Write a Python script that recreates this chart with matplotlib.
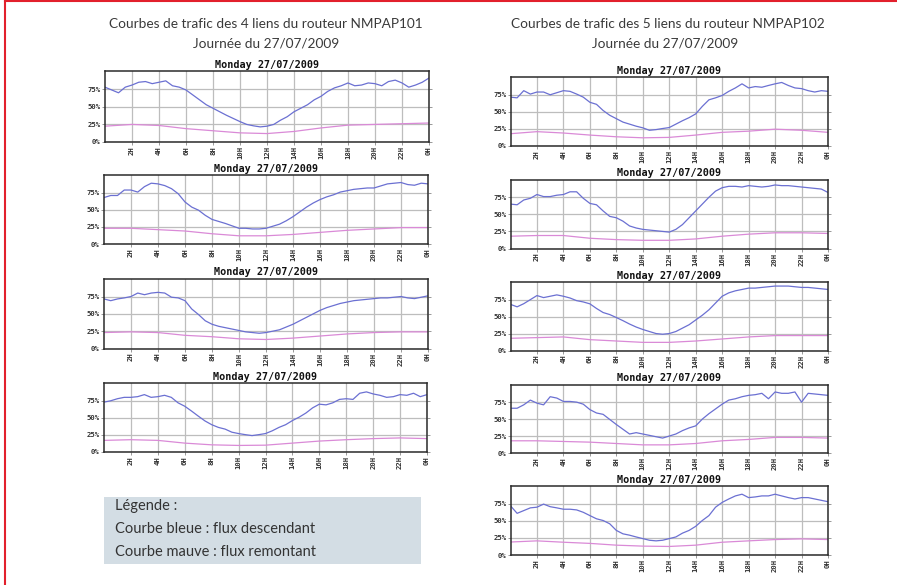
import numpy as np
import matplotlib.pyplot as plt
from matplotlib.patches import Rectangle
from matplotlib.lines import Line2D

W, H = 897, 585

# abscisses : relevés toutes les 30 min (flux descendant), toutes les 2 h (flux remontant)
heures = np.arange(0, 24.5, 0.5)
heures_mauve = np.arange(0, 25, 2)

# ---- routeur NMPAP101 : 4 liens ----
bleu_101_1 = [78, 74, 70, 78, 81, 85, 86, 83, 85, 87, 80, 78, 74, 67, 60, 53, 48, 43, 38, 33.5,
              29, 25, 23, 21.5, 22.5, 25, 31, 36, 43, 48, 53, 60, 65, 72, 77, 80, 84, 80, 81, 84,
              83, 80, 86, 88, 84, 78, 81, 85, 91]
mauve_101_1 = [22.5, 25, 23.5, 19, 16, 13, 12, 15, 20, 24, 25, 26, 27]

bleu_101_2 = [68, 71, 71, 79, 79, 76, 84, 89, 88, 85.5, 81, 73.5, 61.5, 54, 49.5, 42, 36, 33, 30, 26.5,
              23, 23, 22, 22, 23, 26, 29, 34, 40, 47, 54, 60, 65, 69, 72, 76, 78, 80, 81, 82,
              82, 85, 88, 89, 90, 87, 86, 89, 88]
mauve_101_2 = [23, 23, 21, 19, 15, 12, 12, 14, 17, 20, 22, 24, 24]

bleu_101_3 = [71.5, 69, 71.5, 73, 75, 80, 77.6, 80, 81, 80, 74, 73, 69, 57, 49, 40, 35, 32, 30, 28,
              26, 24, 23, 22, 23, 25, 27, 31, 35, 40, 45, 50, 55, 59, 62, 65, 67, 69, 70, 71,
              72, 73, 73, 74, 75, 73, 72, 74, 76]
mauve_101_3 = [23, 24, 23, 19, 17, 14, 13, 15, 18, 21, 23, 24, 24]

bleu_101_4 = [73, 75, 78, 80, 80, 81, 84, 80, 81, 83, 80, 72, 67, 60, 52.6, 45.5, 40, 36, 33.5, 29,
              27, 25.4, 24, 25.4, 27, 31, 36, 40, 46, 51, 57, 64.6, 70, 69, 72, 77, 78, 77, 86, 88,
              85, 83, 80, 81, 84, 83, 86, 81, 84]
mauve_101_4 = [17, 18, 17, 13, 10.5, 9.6, 10, 13, 16, 18, 19.6, 20.6, 19.6]

# ---- routeur NMPAP102 : 5 liens ----
bleu_102_1 = [71.5, 70.5, 81, 76, 79, 79, 75, 78, 81, 80, 76, 71.5, 64, 61, 52, 45, 40, 35, 32, 29,
              26.6, 23, 24, 25.6, 27, 32, 37, 41.5, 47, 58, 67.6, 70.5, 74, 80, 85, 91, 85, 87, 86, 88.6,
              91, 93, 88.6, 85, 84, 81, 79, 81, 80]
mauve_102_1 = [18, 21, 19, 16, 13.5, 12, 12.6, 16, 20, 21.7, 24.6, 23, 20]

bleu_102_2 = [65, 64, 71, 73.5, 79, 76, 76, 78, 79, 83, 83, 73.5, 66, 64, 55, 47, 45, 40, 33, 30,
              28, 27, 26, 25, 24, 28, 35, 45, 55, 65, 75, 84, 89, 91, 91, 90, 92, 91, 90, 91,
              93, 92, 92, 91, 90, 89, 88, 87, 82]
mauve_102_2 = [18, 19, 19, 15, 13, 12, 12, 14, 18, 21, 23, 23, 22]

bleu_102_3 = [68, 64.4, 69, 75, 81, 78, 80, 82, 80, 77.4, 73.5, 71.6, 68.8, 62, 56, 53, 48.6, 44, 39, 34.6,
              31, 28, 25, 24, 25, 28, 33, 38, 45, 52, 60, 70, 80, 85, 88, 90, 92, 92, 93, 94,
              95, 95, 95, 94, 93, 93, 92, 91, 90]
mauve_102_3 = [18, 19, 20, 16, 14, 12, 12, 14, 17, 20, 22, 22, 22]

bleu_102_4 = [66, 66, 71, 78, 73.5, 71, 83, 81, 76, 76, 75, 72, 64, 59, 57, 49.5, 42, 35, 28, 30,
              28, 26, 24, 22, 25, 28, 33, 37, 40, 50, 58, 65, 72, 78, 80, 83, 85, 86, 88, 80,
              90, 88, 88, 90, 75, 88, 87, 86, 85]
mauve_102_4 = [18, 18, 17, 16, 14, 12, 12, 14, 18, 20, 23, 23, 22]

bleu_102_5 = [72, 61, 65, 69, 70, 74.5, 70.7, 69, 67, 67, 66, 62.5, 57.7, 53, 50.5, 45.7, 36, 31, 29, 26.4,
              24, 21.6, 20.7, 21.6, 24, 26.4, 32, 36, 42, 50.5, 57.7, 70, 77, 82, 86.5, 89, 84, 85, 86.5, 86.5,
              89, 86.5, 84, 82, 84, 84, 82, 80, 78]
mauve_102_5 = [19, 20.7, 18.7, 17, 14.4, 13, 12.5, 14.4, 18.7, 20.7, 22.6, 23.6, 22.6]

graphes_101 = [(bleu_101_1, mauve_101_1), (bleu_101_2, mauve_101_2),
               (bleu_101_3, mauve_101_3), (bleu_101_4, mauve_101_4)]
graphes_102 = [(bleu_102_1, mauve_102_1), (bleu_102_2, mauve_102_2), (bleu_102_3, mauve_102_3),
               (bleu_102_4, mauve_102_4), (bleu_102_5, mauve_102_5)]

titre_graphe = "Monday 27/07/2009"
ticks_h = list(range(2, 25, 2))
labels_h = ["%dH" % (h % 24) for h in ticks_h]
ticks_pct = [0, 25, 50, 75]
labels_pct = ["%d%%" % p for p in ticks_pct]

BLEU = "#6b70d2"
MAUVE = "#da8ad7"
GRIS = "#333333"


def boite(x0, y0, x1, y1):
    # coordonnees en pixels -> fraction de figure
    return [x0 / W, 1 - y1 / H, (x1 - x0) / W, (y1 - y0) / H]


def tracer(ax, bleu, mauve):
    ax.plot(heures, bleu, color=BLEU, lw=0.9)
    ax.plot(heures_mauve, mauve, color=MAUVE, lw=0.9)
    ax.set_xlim(0, 24)
    ax.set_ylim(0, 101)
    ax.set_xticks(ticks_h)
    ax.set_xticklabels(labels_h, rotation=90, fontsize=5.2, family="DejaVu Sans Mono",
                       fontweight="bold", color=GRIS)
    ax.set_yticks(ticks_pct)
    ax.set_yticklabels(labels_pct, fontsize=5.2, family="DejaVu Sans Mono",
                       fontweight="bold", color=GRIS)
    ax.tick_params(length=2, width=0.6, pad=1, color="#888888", right=True)
    ax.grid(True, color="#bdbdbd", lw=0.9)
    ax.set_axisbelow(True)
    for s in ax.spines.values():
        s.set_color("#2b2b2b")
        s.set_linewidth(1.1)
    ax.set_title(titre_graphe, fontsize=7.3, family="DejaVu Sans Mono", fontweight="bold",
                 color="#111111", pad=2.5)


fig = plt.figure(figsize=(W / 100, H / 100), dpi=100)

pos_101 = [(105, 71, 429, 142), (104, 175, 428, 244), (104, 278.5, 428, 348.5), (104, 383, 427, 452)]
pos_102 = [(510.5, 77, 828, 146), (510.5, 179.5, 828, 248.5), (510.5, 282, 828, 350.5),
           (510.5, 384.5, 828, 453), (510.5, 486, 828, 555)]

for (b, m), p in zip(graphes_101, pos_101):
    tracer(fig.add_axes(boite(*p)), b, m)
for (b, m), p in zip(graphes_102, pos_102):
    tracer(fig.add_axes(boite(*p)), b, m)

police = ["Lato", "DejaVu Sans"]
fig.text(266 / W, 1 - 24 / H, "Courbes de trafic des 4 liens du routeur NMPAP101",
         ha="center", va="center", fontsize=9.8, family=police, color="#3a3a3a")
fig.text(266 / W, 1 - 43 / H, "Journée du 27/07/2009",
         ha="center", va="center", fontsize=9.8, family=police, color="#3a3a3a")
fig.text(668 / W, 1 - 24 / H, "Courbes de trafic des 5 liens du routeur NMPAP102",
         ha="center", va="center", fontsize=9.8, family=police, color="#3a3a3a")
fig.text(665 / W, 1 - 43 / H, "Journée du 27/07/2009",
         ha="center", va="center", fontsize=9.8, family=police, color="#3a3a3a")

# encadre de legende
fig.add_artist(Rectangle((104 / W, 1 - 564 / H), 317 / W, 67 / H, transform=fig.transFigure,
                         facecolor="#d3dde4", edgecolor="none"))
legende = ["Légende :", "Courbe bleue : flux descendant", "Courbe mauve : flux remontant"]
for i, ligne in enumerate(legende):
    fig.text(115 / W, 1 - (506 + 23 * i) / H, ligne, ha="left", va="center",
             fontsize=10.5, family=police, color="#333333")

# cadre rouge
fig.add_artist(Line2D([4.5 / W, 4.5 / W], [0, 1 - 1 / H], transform=fig.transFigure,
                      color="#e2202c", lw=1.5))
fig.add_artist(Line2D([4.5 / W, 1], [1 - 1 / H, 1 - 1 / H], transform=fig.transFigure,
                      color="#e2202c", lw=1.5))

fig.savefig("out.png", dpi=100)
